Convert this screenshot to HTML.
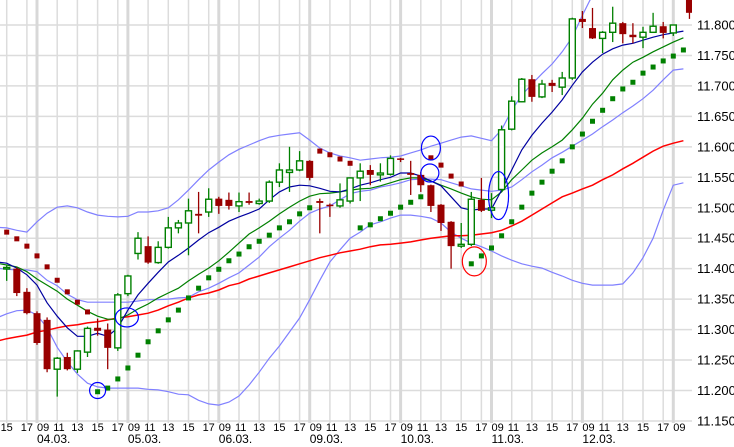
<!DOCTYPE html>
<html><head><meta charset="utf-8">
<style>
html,body{margin:0;padding:0;background:#fff;}
svg{display:block;}
text{font-family:"Liberation Sans",sans-serif;fill:#000;}
</style></head>
<body>
<svg id="chart" width="734" height="447" viewBox="0 0 734 447" xmlns="http://www.w3.org/2000/svg">
<defs><clipPath id="plotclip"><rect x="0" y="0" width="692" height="421"/></clipPath></defs>
<g id="grid"></g>
<g id="plot" clip-path="url(#plotclip)"></g>
<g id="axes"></g>
</svg>
<script>
// ---- data ----
const firstCandleSlot = -3;
const openPrices = [11.400,11.400,11.362,11.327,11.316,11.235,11.255,11.235,11.263,11.303,11.300,11.270,11.359,11.425,11.437,11.410,11.435,11.467,11.475,11.490,11.493,11.515,11.513,11.503,11.511,11.507,11.511,11.542,11.558,11.562,11.577,11.511,11.505,11.503,11.511,11.549,11.562,11.554,11.555,11.581,11.557,11.554,11.537,11.505,11.477,11.437,11.440,11.513,11.496,11.530,11.629,11.674,11.711,11.682,11.705,11.698,11.713,11.810,11.795,11.778,11.788,11.803,11.784,11.780,11.788,11.798,11.787,11.850];
const highPrices = [11.405,11.402,11.368,11.330,11.320,11.255,11.262,11.266,11.305,11.318,11.310,11.360,11.390,11.460,11.453,11.445,11.485,11.480,11.515,11.526,11.532,11.518,11.525,11.525,11.525,11.515,11.545,11.573,11.600,11.593,11.578,11.515,11.507,11.540,11.550,11.573,11.570,11.573,11.586,11.582,11.577,11.559,11.538,11.506,11.478,11.475,11.526,11.549,11.524,11.635,11.683,11.713,11.718,11.710,11.710,11.723,11.812,11.823,11.828,11.790,11.830,11.805,11.803,11.797,11.820,11.805,11.800,11.860];
const lowPrices = [11.380,11.355,11.325,11.275,11.230,11.190,11.233,11.229,11.255,11.290,11.235,11.265,11.355,11.415,11.408,11.408,11.433,11.458,11.422,11.458,11.485,11.490,11.497,11.493,11.505,11.505,11.508,11.534,11.526,11.560,11.545,11.458,11.485,11.500,11.507,11.511,11.537,11.543,11.553,11.575,11.521,11.526,11.493,11.462,11.400,11.434,11.437,11.493,11.483,11.528,11.627,11.673,11.674,11.680,11.690,11.685,11.710,11.795,11.777,11.754,11.772,11.770,11.770,11.762,11.787,11.778,11.782,11.810];
const closePrices = [11.402,11.360,11.327,11.278,11.235,11.253,11.235,11.265,11.302,11.298,11.270,11.357,11.388,11.450,11.410,11.435,11.467,11.475,11.495,11.487,11.514,11.503,11.503,11.510,11.508,11.511,11.542,11.562,11.562,11.577,11.549,11.508,11.503,11.513,11.549,11.560,11.554,11.557,11.581,11.579,11.554,11.537,11.503,11.475,11.437,11.440,11.514,11.495,11.500,11.628,11.675,11.711,11.682,11.703,11.700,11.713,11.810,11.805,11.778,11.788,11.803,11.785,11.780,11.788,11.798,11.787,11.800,11.820];
const sarValues = [11.460,11.449,11.437,11.421,11.403,11.381,11.362,11.345,11.329,11.198,11.204,11.219,11.237,11.258,11.280,11.298,11.316,11.332,11.352,11.368,11.385,11.399,11.413,11.424,11.436,11.445,11.455,11.467,11.477,11.490,11.500,11.593,11.587,11.580,11.573,11.467,11.472,11.482,11.491,11.501,11.509,11.518,11.582,11.570,11.552,11.539,11.408,11.421,11.434,11.454,11.477,11.501,11.524,11.542,11.560,11.577,11.600,11.621,11.642,11.660,11.679,11.695,11.706,11.721,11.731,11.741,11.749,11.759];
const firstLineSlot = -4;
const maLong = [11.281,11.285,11.288,11.291,11.296,11.299,11.303,11.306,11.308,11.311,11.313,11.316,11.319,11.321,11.324,11.327,11.332,11.339,11.345,11.352,11.357,11.360,11.365,11.372,11.376,11.383,11.388,11.393,11.398,11.403,11.408,11.413,11.418,11.422,11.426,11.429,11.432,11.436,11.439,11.440,11.442,11.444,11.447,11.450,11.452,11.454,11.454,11.455,11.457,11.459,11.463,11.470,11.478,11.488,11.498,11.508,11.518,11.524,11.531,11.537,11.546,11.554,11.564,11.573,11.583,11.593,11.601,11.606,11.610];
const maShort = [11.411,11.409,11.401,11.390,11.373,11.344,11.322,11.303,11.289,11.289,11.294,11.289,11.303,11.332,11.357,11.376,11.394,11.411,11.422,11.434,11.447,11.459,11.468,11.478,11.485,11.491,11.498,11.513,11.526,11.534,11.537,11.536,11.532,11.527,11.526,11.531,11.537,11.541,11.546,11.550,11.557,11.557,11.552,11.544,11.536,11.518,11.500,11.496,11.498,11.498,11.529,11.562,11.595,11.619,11.639,11.657,11.677,11.701,11.723,11.739,11.752,11.761,11.767,11.770,11.775,11.780,11.784,11.787,11.790];
const maMid = [11.409,11.406,11.403,11.395,11.383,11.373,11.363,11.350,11.340,11.330,11.322,11.317,11.317,11.324,11.334,11.342,11.352,11.360,11.368,11.380,11.391,11.401,11.413,11.427,11.442,11.457,11.467,11.478,11.490,11.501,11.511,11.519,11.523,11.524,11.526,11.529,11.531,11.532,11.536,11.541,11.546,11.549,11.549,11.544,11.537,11.531,11.524,11.518,11.514,11.513,11.526,11.546,11.562,11.578,11.590,11.600,11.611,11.628,11.647,11.670,11.688,11.710,11.726,11.739,11.747,11.756,11.764,11.772,11.779];
const bandUpper = [11.468,11.467,11.463,11.460,11.477,11.491,11.501,11.503,11.500,11.493,11.488,11.486,11.485,11.486,11.493,11.493,11.495,11.500,11.513,11.529,11.546,11.562,11.575,11.587,11.596,11.603,11.610,11.616,11.619,11.621,11.623,11.611,11.598,11.590,11.585,11.582,11.578,11.580,11.582,11.583,11.585,11.590,11.595,11.601,11.606,11.611,11.616,11.618,11.614,11.610,11.628,11.660,11.685,11.703,11.720,11.736,11.756,11.780,11.816,11.849,11.880,11.880,11.880,11.880,11.880,11.880,11.880,11.880,11.880];
const bandMiddle = [11.401,11.399,11.398,11.398,11.395,11.381,11.372,11.358,11.349,11.345,11.345,11.345,11.345,11.345,11.347,11.349,11.349,11.350,11.352,11.353,11.362,11.368,11.376,11.385,11.393,11.406,11.419,11.436,11.450,11.463,11.478,11.491,11.498,11.503,11.513,11.523,11.527,11.529,11.534,11.537,11.541,11.546,11.547,11.547,11.546,11.541,11.536,11.531,11.529,11.527,11.529,11.534,11.546,11.559,11.570,11.582,11.591,11.601,11.611,11.621,11.633,11.644,11.656,11.667,11.679,11.693,11.710,11.726,11.728];
const bandLower = [11.319,11.326,11.331,11.332,11.324,11.303,11.271,11.247,11.227,11.212,11.206,11.204,11.204,11.204,11.204,11.202,11.201,11.198,11.194,11.193,11.184,11.178,11.176,11.181,11.191,11.209,11.230,11.253,11.273,11.296,11.319,11.349,11.381,11.411,11.431,11.450,11.460,11.472,11.477,11.483,11.488,11.488,11.486,11.483,11.475,11.460,11.450,11.442,11.436,11.429,11.421,11.414,11.408,11.404,11.401,11.394,11.388,11.381,11.376,11.373,11.373,11.373,11.375,11.393,11.418,11.450,11.496,11.537,11.541];
const yTicks = [11.800,11.750,11.700,11.650,11.600,11.550,11.500,11.450,11.400,11.350,11.300,11.250,11.200,11.150];
const dayLabels = ["04.03.","05.03.","06.03.","09.03.","10.03.","11.03.","12.03.","13.03."];
const hourLabels = ["09","11","13","15","17"];
const annotations = [
 {slot:6, price:11.200, rx:8, ry:8, color:"#0000ff"},
 {slot:8.9, price:11.320, rx:11.5, ry:9.5, color:"#0000ff"},
 {slot:39, price:11.598, rx:9.5, ry:12, color:"#0000ff"},
 {slot:38.9, price:11.557, rx:9, ry:9, color:"#0000ff"},
 {slot:45.7, price:11.520, rx:10, ry:24, color:"#0000ff"},
 {slot:43.3, price:11.412, rx:12, ry:14.5, color:"#ff0000"}
];
// ---- axes ----
const SLOT=10.1, X0=37;
function xs(k){return X0+k*SLOT;}
function ys(v){return 25+(11.8-v)*609.2;}
const NS="http://www.w3.org/2000/svg";
function mk(tag,attrs,parent){const e=document.createElementNS(NS,tag);for(const a in attrs)e.setAttribute(a,attrs[a]);parent.appendChild(e);return e;}
const grid=document.getElementById('grid'), plot=document.getElementById('plot'), axes=document.getElementById('axes');
// horizontal grid + y labels
yTicks.forEach(v=>{
  const l=mk('line',{x1:0,x2:692,y1:ys(v),y2:ys(v),stroke:'#dcdcdc','stroke-width':1.5},grid);
  
  
  const t=mk('text',{x:697,y:ys(v)+4.5,'font-size':13},axes);
  t.textContent=v.toFixed(3);
  
  
});
// vertical grid + x labels
for(let k=-3;k<=64;k++){
  const m=((k%9)+9)%9;
  if(m%2!==0) continue;
  const x=xs(k);
  const isDay=(m===0);
  const l=mk('line',{x1:x,x2:x,y1:0,y2:423,stroke:isDay?'#d8d8d8':'#dcdcdc','stroke-width':isDay?3:1.5},grid);
  
  
  const t=mk('text',{x:isDay?x:(m===2?x-4:x),y:431,'font-size':11,'text-anchor':(isDay||m===2)?'start':'middle'},axes);
  t.textContent=hourLabels[m/2];
  
  
  if(isDay){
    const d=Math.floor(k/9);
    if(d>=0 && d<dayLabels.length-1){
      const dt=mk('text',{x:x,y:443,'font-size':12},axes);
      dt.textContent=dayLabels[d];
      
      
    }
  }
}
// lines
function drawLine(arr,color,w,name){
  const pts=arr.map((v,i)=>xs(i+firstLineSlot).toFixed(1)+','+ys(v).toFixed(1)).join(' ');
  const p=mk('polyline',{points:pts,fill:'none',stroke:color,'stroke-width':w},plot);
  
  
}
drawLine(bandUpper,'#8080ff',1.2,'bollinger-upper');
drawLine(bandMiddle,'#8080ff',1.2,'bollinger-middle');
drawLine(bandLower,'#8080ff',1.2,'bollinger-lower');
drawLine(maLong,'#ff0000',1.5,'moving-average-long');
drawLine(maMid,'#008000',1.2,'moving-average-mid');
drawLine(maShort,'#0000a0',1.2,'moving-average-short');
// candles
closePrices.forEach((c,i)=>{
  const o=openPrices[i],h=highPrices[i],lo=lowPrices[i];
  const k=i+firstCandleSlot;
  const x=(k===64)?xs(64.6):xs(k);
  const up=c>=o;
  const col=up?'#008000':'#990000';
  const g=mk('g',{},plot);
  
  
  mk('line',{x1:x,x2:x,y1:ys(h),y2:ys(lo),stroke:col,'stroke-width':1.3},g);
  const top=ys(Math.max(o,c)), bot=ys(Math.min(o,c));
  const hgt=Math.max(bot-top,1.5);
  if(up) mk('rect',{x:x-3,y:top,width:6,height:hgt,fill:'#fff',stroke:col,'stroke-width':1.4},g);
  else mk('rect',{x:x-3.5,y:top,width:7,height:hgt,fill:col},g);
});
// SAR dots
sarValues.forEach((s,i)=>{
  const above = s>highPrices[i];
  const r=mk('rect',{x:xs(i+firstCandleSlot)-2.5,y:ys(s)-2.5,width:5,height:5,fill:above?'#990000':'#008000'},plot);
  
  
});
// annotations
annotations.forEach(a=>{
  const e=mk('ellipse',{cx:xs(a.slot),cy:ys(a.price),rx:a.rx,ry:a.ry,fill:'none',stroke:a.color,'stroke-width':1.2},plot);
  
  
});
</script>
</body></html>
